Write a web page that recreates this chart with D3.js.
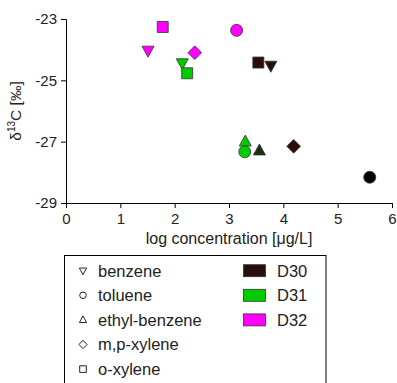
<!DOCTYPE html>
<html><head><meta charset="utf-8">
<script src="https://cdn.jsdelivr.net/npm/d3@7"></script>
<style>body{margin:0;background:#fff;}svg{display:block;font-family:Arial,"Liberation Sans",sans-serif;}</style>
</head><body><svg id="c" width="397" height="383"></svg>
<script>
const compounds = ["benzene","toluene","ethyl-benzene","m,p-xylene","o-xylene"];
const samples = ["D30","D31","D32"];
const sampleColors = ["#2a0e0e","#00cc00","#ff00ff"];
const xTicks = [0,1,2,3,4,5,6];
const yTicks = [-23,-25,-27,-29];
// [sample, compound, logConc, d13C]
const pointsD30 = [["D30","o-xylene",3.54,-24.42],["D30","benzene",3.77,-24.52],["D30","ethyl-benzene",3.56,-27.29],["D30","m,p-xylene",4.19,-27.15],["D30","toluene",5.59,-28.16]];
const pointsD31 = [["D31","benzene",2.14,-24.44],["D31","o-xylene",2.23,-24.77],["D31","ethyl-benzene",3.30,-27.0],["D31","toluene",3.29,-27.33]];
const pointsD32 = [["D32","o-xylene",1.78,-23.26],["D32","benzene",1.51,-24.03],["D32","m,p-xylene",2.37,-24.1],["D32","toluene",3.14,-23.37]];
const fillOverride = {"D30|ethyl-benzene":"#1a3010","D30|toluene":"#000000"};

const svg = d3.select("#c");
const x = d3.scaleLinear().domain([0,6]).range([66,392]);
const y = d3.scaleLinear().domain([-29,-23]).range([203,19]);
const color = d3.scaleOrdinal().domain(samples).range(sampleColors);
const symType = {"benzene":"tri-down","toluene":"circle","ethyl-benzene":"tri-up","m,p-xylene":"diamond","o-xylene":"square"};

function shapePath(t, s){
  if(t==="circle"){const p=d3.path();p.arc(0,0,s,0,Math.PI*2);return p.toString();}
  if(t==="square") return `M${-s},${-s}H${s}V${s}H${-s}Z`;
  if(t==="diamond") return `M0,${-s*1.25}L${s*1.25},0L0,${s*1.25}L${-s*1.25},0Z`;
  if(t==="tri-up") return `M0,${-s*1.2}L${s*1.1},${s*0.8}L${-s*1.1},${s*0.8}Z`;
  if(t==="tri-down") return `M0,${s*1.2}L${s*1.1},${-s*0.8}L${-s*1.1},${-s*0.8}Z`;
}

const gx = svg.append("g").attr("transform","translate(0,203)")
  .call(d3.axisBottom(x).tickValues(xTicks).tickSize(5).tickFormat(d3.format("d")));
const gy = svg.append("g").attr("transform","translate(66,0)")
  .call(d3.axisLeft(y).tickValues(yTicks).tickSize(5).tickFormat(d=>d));
[gx,gy].forEach(g=>{
  g.select(".domain").attr("stroke","#000").attr("stroke-width",1);
  g.selectAll(".tick line").attr("stroke","#000");
  g.selectAll(".tick text").attr("font-size",15).attr("fill","#222").attr("font-family","Arial,'Liberation Sans',sans-serif");
});
gx.selectAll(".tick text").attr("dy","0.85em");
gy.selectAll(".tick text").attr("dx","-1px");

svg.append("text").attr("x",229).attr("y",244).attr("text-anchor","middle")
  .attr("font-size",16).attr("fill","#222").text("log concentration [μg/L]");
const yl = svg.append("text").attr("transform","translate(21,111) rotate(-90)").attr("text-anchor","middle")
  .attr("font-size",15.5).attr("fill","#222");
yl.append("tspan").text("δ");
yl.append("tspan").attr("font-size",10).attr("dy",-6).text("13");
yl.append("tspan").attr("dy",6).text("C [‰]");

const all = [...pointsD30,...pointsD31,...pointsD32];
svg.append("g").selectAll("path").data(all).join("path")
  .attr("transform",d=>`translate(${x(d[2])},${y(d[3])})`)
  .attr("d",d=>shapePath(symType[d[1]], symType[d[1]]==="circle"?6:5.5))
  .attr("fill",d=>fillOverride[d[0]+"|"+d[1]]||color(d[0]))
  .attr("stroke","#333").attr("stroke-width",0.8);

const lg = svg.append("g");
lg.append("rect").attr("x",64.5).attr("y",255.5).attr("width",261.5).attr("height",140)
  .attr("fill","none").attr("stroke","#000").attr("stroke-width",1);
compounds.forEach((c,i)=>{
  const yy = 270.7 + i*24.6;
  lg.append("path").attr("transform",`translate(83,${yy})`).attr("d",shapePath(symType[c],3.3))
    .attr("fill","none").attr("stroke","#222").attr("stroke-width",1);
  lg.append("text").attr("x",98).attr("y",yy).attr("dy","0.36em").attr("font-size",16.5).attr("fill","#222").text(c);
});
samples.forEach((s,i)=>{
  const yy = 270.7 + i*24.6;
  lg.append("rect").attr("x",243.5).attr("y",yy-6).attr("width",22).attr("height",12)
    .attr("fill",color(s)).attr("stroke","#333").attr("stroke-width",0.8);
  lg.append("text").attr("x",277).attr("y",yy).attr("dy","0.36em").attr("font-size",16.5).attr("fill","#222").text(s);
});
</script></body></html>
